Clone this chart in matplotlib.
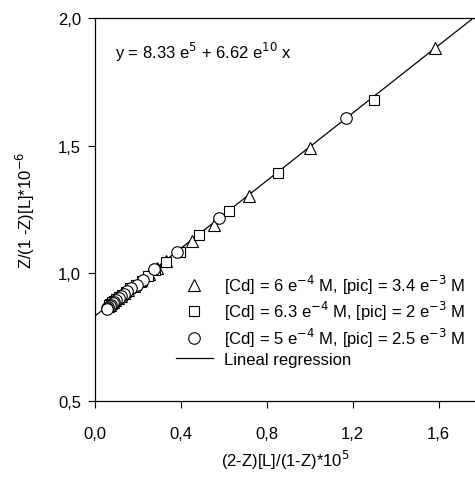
import matplotlib
matplotlib.use("Agg")
import matplotlib.pyplot as plt
import numpy as np

plt.rcParams['font.family'] = ['Liberation Sans', 'DejaVu Sans']

tri_x = [1.586, 1.000, 0.716, 0.555, 0.451, 0.330, 0.290, 0.250, 0.210, 0.180,
         0.155, 0.135, 0.120, 0.105, 0.095, 0.085, 0.075, 0.068, 0.062]
tri_y = [1.882, 1.492, 1.304, 1.190, 1.126, 1.050, 1.022, 0.996, 0.972, 0.952,
         0.936, 0.922, 0.912, 0.902, 0.896, 0.889, 0.883, 0.878, 0.874]

sq_x = [1.298, 0.854, 0.625, 0.485, 0.395, 0.330, 0.280, 0.247, 0.220, 0.190,
        0.165, 0.145, 0.128, 0.113, 0.100, 0.090, 0.080, 0.072, 0.065]
sq_y = [1.680, 1.392, 1.245, 1.150, 1.085, 1.045, 1.012, 0.990, 0.970, 0.955,
        0.942, 0.928, 0.917, 0.907, 0.899, 0.892, 0.886, 0.880, 0.876]

cir_x = [1.167, 0.578, 0.380, 0.275, 0.225, 0.194, 0.170, 0.150, 0.135, 0.122,
         0.110, 0.100, 0.090, 0.082, 0.075, 0.068, 0.062, 0.058, 0.056]
cir_y = [1.608, 1.218, 1.085, 1.018, 0.975, 0.955, 0.942, 0.930, 0.918, 0.910,
         0.902, 0.895, 0.888, 0.882, 0.877, 0.872, 0.868, 0.864, 0.860]

intercept = 0.833
slope = 0.662
reg_x = [0.0, 1.77]

labels = ["[Cd] = 6 e$^{-4}$ M, [pic] = 3.4 e$^{-3}$ M",
          "[Cd] = 6.3 e$^{-4}$ M, [pic] = 2 e$^{-3}$ M",
          "[Cd] = 5 e$^{-4}$ M, [pic] = 2.5 e$^{-3}$ M",
          "Lineal regression"]

xticks = [0.0, 0.4, 0.8, 1.2, 1.6]
xticklabels = ["0,0", "0,4", "0,8", "1,2", "1,6"]
yticks = [0.5, 1.0, 1.5, 2.0]
yticklabels = ["0,5", "1,0", "1,5", "2,0"]

FS = 12

fig = plt.figure(figsize=(4.75, 4.85), dpi=100)
ax = fig.add_axes([0.2, 0.171, 0.8, 0.79])

reg_y = [intercept + slope * v for v in reg_x]
ln, = ax.plot(reg_x, reg_y, color='black', lw=0.9, zorder=1)
ms = 8
h1, = ax.plot(tri_x, tri_y, ls='none', marker='^', mfc='white', mec='black', mew=0.8, ms=ms, zorder=3)
h2, = ax.plot(sq_x, sq_y, ls='none', marker='s', mfc='white', mec='black', mew=0.8, ms=ms - 1.2, zorder=3)
h3, = ax.plot(cir_x, cir_y, ls='none', marker='o', mfc='white', mec='black', mew=0.8, ms=ms + 0.3, zorder=4)

ax.set_xlim(0, 1.77)
ax.set_ylim(0.5, 2.0)
ax.set_xticks(xticks)
ax.set_xticklabels(xticklabels)
ax.set_yticks(yticks)
ax.set_yticklabels(yticklabels)
ax.tick_params(direction='out', length=5, width=0.8, labelsize=FS)
ax.tick_params(axis='x', pad=13)
ax.tick_params(axis='y', pad=5)
ax.spines['right'].set_visible(False)
for s in ['left', 'bottom', 'top']:
    ax.spines[s].set_linewidth(0.9)

ax.set_xlabel("(2-Z)[L]/(1-Z)*10$^5$", fontsize=FS, labelpad=5)
ax.set_ylabel("Z/(1 -Z)[L]*10$^{-6}$", fontsize=FS, labelpad=15)

ax.text(0.093, 1.867, "y = 8.33 e$^5$ + 6.62 e$^{10}$ x", fontsize=FS, va='center', ha='left')

leg = ax.legend([h1, h2, h3, ln], labels, loc='upper left', bbox_to_anchor=(0.213, 0.335),
                frameon=False, fontsize=FS, handlelength=2.2, handletextpad=0.7,
                labelspacing=0.2, borderaxespad=0, borderpad=0)

fig.savefig("out.png", dpi=100)
